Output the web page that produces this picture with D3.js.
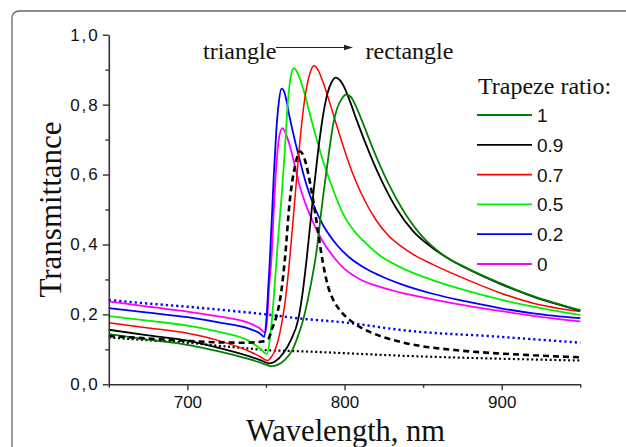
<!DOCTYPE html>
<html>
<head>
<meta charset="utf-8">
<script src="https://cdn.jsdelivr.net/npm/d3@7"></script>
<style>
  html, body { margin: 0; padding: 0; background: #fff; }
  svg { display: block; }
</style>
</head>
<body>
<svg id="chart" width="626" height="447"></svg>
<script>
// Transmittance spectra of trapeze-shaped gratings, [wavelength nm, T]
const ratio1 = [[650,0.144],[675,0.128],[700,0.113],[720,0.094],[740,0.071],[746,0.063],[753.5,0.052],[757,0.055],[762,0.070],[767,0.100],[770.5,0.140],[773.7,0.185],[777,0.250],[780,0.320],[782,0.375],[784,0.448],[786,0.525],[788.5,0.610],[790.6,0.680],[792.7,0.742],[795,0.785],[798,0.815],[801.2,0.829],[804,0.822],[807,0.798],[810.8,0.757],[819.2,0.661],[827.7,0.576],[837.2,0.498],[850,0.420],[862,0.372],[877.5,0.333],[898.7,0.290],[920,0.252],[950,0.212]];
const ratio09 = [[650,0.156],[675,0.140],[700,0.125],[720,0.104],[740,0.079],[746,0.070],[752,0.060],[756,0.066],[761,0.089],[766,0.128],[770.5,0.185],[773.5,0.268],[775.8,0.355],[778,0.450],[780.4,0.556],[783,0.660],[786,0.760],[789,0.830],[792,0.866],[794.4,0.877],[797,0.870],[800,0.848],[803,0.815],[807.6,0.757],[816,0.660],[824.5,0.574],[833,0.503],[843.6,0.438],[856,0.390],[866,0.360],[877.5,0.332],[898.7,0.288],[920,0.251],[950,0.211]];
const ratio07 = [[650,0.176],[675,0.161],[700,0.146],[720,0.125],[740,0.093],[746,0.080],[751,0.068],[753,0.075],[756,0.100],[759,0.150],[762,0.230],[764.5,0.330],[766.5,0.430],[768.5,0.535],[770.5,0.640],[772.6,0.740],[775.5,0.840],[778,0.890],[780.5,0.911],[783,0.900],[786,0.868],[790.6,0.805],[795,0.740],[799,0.683],[805.4,0.600],[812.9,0.525],[820,0.470],[828,0.425],[835,0.398],[845,0.368],[856,0.343],[877.5,0.300],[898.7,0.262],[920,0.232],[950,0.208]];
const ratio05 = [[650,0.195],[675,0.182],[700,0.168],[720,0.150],[740,0.122],[746,0.103],[750.5,0.087],[753,0.150],[755,0.250],[756.7,0.356],[758.5,0.460],[760,0.540],[762,0.670],[764,0.810],[766,0.885],[767.7,0.904],[770,0.892],[773.5,0.848],[778,0.772],[782,0.705],[786,0.643],[790.6,0.583],[795,0.530],[799,0.488],[805,0.445],[812,0.410],[822,0.370],[835,0.336],[856,0.298],[877.5,0.268],[898.7,0.243],[920,0.222],[950,0.198]];
const ratio02 = [[650,0.218],[675,0.205],[700,0.192],[720,0.177],[740,0.158],[746,0.146],[749,0.136],[750.5,0.200],[751.5,0.280],[752.5,0.360],[754,0.500],[755,0.600],[756.5,0.720],[758,0.800],[759.9,0.846],[761.5,0.838],[763,0.812],[764.8,0.770],[768,0.705],[771.6,0.640],[775.8,0.570],[781,0.505],[786.4,0.455],[794.9,0.400],[803.3,0.362],[812,0.335],[822,0.312],[835,0.288],[856,0.259],[877.5,0.237],[898.7,0.218],[920,0.203],[950,0.189]];
const ratio0 = [[650,0.237],[675,0.222],[700,0.208],[720,0.194],[740,0.174],[746,0.160],[749.5,0.148],[751,0.200],[752,0.280],[753.5,0.360],[755,0.500],[756.5,0.620],[758.5,0.710],[760.5,0.733],[762.5,0.718],[765,0.685],[767.3,0.645],[771.6,0.565],[777.9,0.485],[785.3,0.415],[793.8,0.360],[800,0.330],[810,0.300],[820,0.282],[835,0.263],[856,0.243],[877.5,0.225],[898.7,0.210],[920,0.196],[950,0.180]];
// Reference spectra without trapeze profile
const refDashed = [[650,0.138],[675,0.131],[700,0.124],[720,0.120],[735,0.119],[747,0.122],[751.4,0.130],[754,0.160],[756.7,0.195],[759.9,0.270],[762,0.356],[765.2,0.527],[768.4,0.622],[771.6,0.666],[774,0.652],[776.8,0.605],[779,0.553],[781,0.500],[783,0.440],[785.3,0.372],[787.5,0.318],[789.5,0.280],[793,0.240],[797,0.212],[803,0.185],[809.6,0.164],[816,0.150],[824.5,0.135],[835,0.122],[848,0.110],[870,0.098],[892,0.090],[920,0.083],[950,0.077]];
const refDottedBlack = [[650,0.134],[675,0.126],[700,0.119],[720,0.110],[740,0.102],[752,0.097],[760,0.096],[780,0.093],[800,0.089],[835,0.082],[892,0.074],[920,0.071],[950,0.068]];
const refDottedBlue = [[650,0.241],[675,0.231],[700,0.222],[733,0.208],[752,0.199],[772,0.188],[800,0.177],[835,0.156],[848,0.150],[892,0.138],[920,0.129],[950,0.119]];

const legendLabels = ["1", "0.9", "0.7", "0.5", "0.2", "0"];
const legendTitle = "Trapeze ratio:";
const xMajorTicks = [700, 800, 900];
const xMinorTicks = [650, 750, 850, 950];
const yMajorTicks = [0, 0.2, 0.4, 0.6, 0.8, 1.0];
const yMinorTicks = [0.1, 0.3, 0.5, 0.7, 0.9];

const svg = d3.select("#chart");
const serif = "'Liberation Serif', 'Times New Roman', serif";
const sans = "'Liberation Sans', Arial, sans-serif";

// rounded frame, open to the right and bottom
svg.append("rect")
  .attr("x", 12).attr("y", 11)
  .attr("width", 700).attr("height", 500)
  .attr("rx", 7).attr("ry", 7)
  .attr("fill", "none").attr("stroke", "#666").attr("stroke-width", 1.3);

const x = d3.scaleLinear().domain([650, 950]).range([108.8, 580.3]);
const y = d3.scaleLinear().domain([0, 1]).range([384.3, 34.7]);

const series = [
  { data: refDottedBlue, color: "#0000ff", width: 2.4, dash: "2.2,3" },
  { data: refDottedBlack, color: "#000", width: 2.2, dash: "2,2.6" },
  { data: ratio0, color: "#ff00ff", width: 1.8 },
  { data: ratio02, color: "#0000ff", width: 1.8 },
  { data: ratio05, color: "#00f000", width: 1.8 },
  { data: ratio07, color: "#ff0000", width: 1.5 },
  { data: ratio09, color: "#000", width: 1.8 },
  { data: ratio1, color: "#008000", width: 1.8 },
  { data: refDashed, color: "#000", width: 2.6, dash: "6,4" }
];

const line = d3.line()
  .x(d => x(d[0]))
  .y(d => y(d[1]))
  .curve(d3.curveMonotoneX);

const plot = svg.append("g");
series.forEach(s => {
  plot.append("path")
    .datum(s.data)
    .attr("d", line)
    .attr("fill", "none")
    .attr("stroke", s.color)
    .attr("stroke-width", s.width)
    .attr("stroke-dasharray", s.dash || null)
    .attr("stroke-linejoin", "round");
});

// axes
const axisColor = "#333";
const fmtY = d => d3.format(".1f")(d).replace(".", ",");

const gx = svg.append("g").attr("transform", `translate(0,${y(0)})`);
gx.call(d3.axisBottom(x).tickValues(xMajorTicks).tickSize(6).tickSizeOuter(0).tickPadding(6));
gx.append("g").call(d3.axisBottom(x).tickValues(xMinorTicks).tickSize(3.5).tickSizeOuter(0).tickFormat(""))
  .select(".domain").remove();

const gy = svg.append("g").attr("transform", `translate(${x(650)},0)`);
gy.call(d3.axisLeft(y).tickValues(yMajorTicks).tickSize(6).tickSizeOuter(0).tickPadding(3).tickFormat(fmtY));
gy.append("g").call(d3.axisLeft(y).tickValues(yMinorTicks).tickSize(3.5).tickSizeOuter(0).tickFormat(""))
  .select(".domain").remove();

svg.selectAll(".domain").attr("stroke", axisColor).attr("stroke-width", 1.6);
svg.selectAll(".tick line").attr("stroke", axisColor).attr("stroke-width", 1.4);
svg.selectAll(".tick text")
  .attr("fill", "#111")
  .style("font-family", sans)
  .style("font-size", "17px");
gy.selectAll(".tick text").style("letter-spacing", "2px");

// axis titles
svg.append("text")
  .attr("x", (x(650) + x(950)) / 2 + 1).attr("y", 441)
  .attr("text-anchor", "middle")
  .style("font-family", serif).style("font-size", "30.5px").attr("fill", "#111")
  .text("Wavelength, nm");

svg.append("text")
  .attr("transform", `translate(61,${(y(0) + y(1)) / 2}) rotate(-90)`)
  .attr("text-anchor", "middle")
  .style("font-family", serif).style("font-size", "31px").attr("fill", "#111")
  .text("Transmittance");

// shape annotation
svg.append("text")
  .attr("x", 203).attr("y", 59)
  .style("font-family", serif).style("font-size", "24px").attr("fill", "#111")
  .text("triangle");
svg.append("text")
  .attr("x", 365.5).attr("y", 59)
  .style("font-family", serif).style("font-size", "24px").attr("fill", "#111")
  .text("rectangle");
svg.append("line")
  .attr("x1", 276).attr("y1", 47.5).attr("x2", 346).attr("y2", 47.5)
  .attr("stroke", "#222").attr("stroke-width", 1);
svg.append("path")
  .attr("d", "M353,47.5 L344,44.8 L344,50.2 Z")
  .attr("fill", "#222");

// legend
const legend = svg.append("g");
legend.append("text")
  .attr("x", 478).attr("y", 94)
  .style("font-family", serif).style("font-size", "24px").attr("fill", "#111")
  .text(legendTitle);
const legendColors = ["#008000", "#000", "#ff0000", "#00f000", "#0000ff", "#ff00ff"];
legendLabels.forEach((lab, i) => {
  const ly = 115 + i * 29.8;
  legend.append("line")
    .attr("x1", 477).attr("x2", 532).attr("y1", ly).attr("y2", ly)
    .attr("stroke", legendColors[i]).attr("stroke-width", 1.8);
  legend.append("text")
    .attr("x", 537).attr("y", ly + 7)
    .style("font-family", sans).style("font-size", "19px").attr("fill", "#111")
    .text(lab);
});
</script>
</body>
</html>
